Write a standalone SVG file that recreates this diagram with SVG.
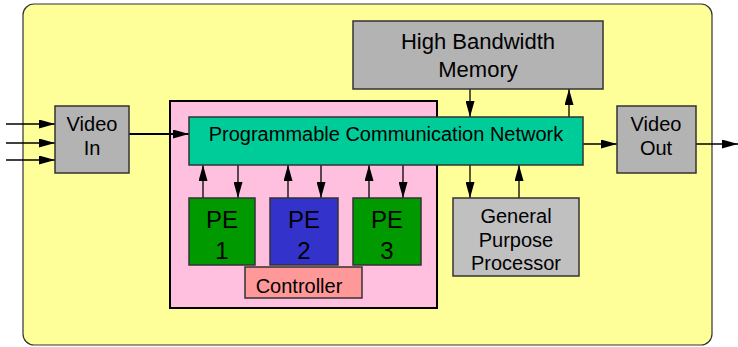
<svg xmlns="http://www.w3.org/2000/svg" width="738" height="347" viewBox="0 0 738 347">
<style>
.box{stroke:#333;stroke-width:1.5}
.t{font-family:"Liberation Sans",Arial,sans-serif;fill:#000;text-anchor:middle}
.c{stroke:#000;stroke-width:1.3;fill:none;marker-end:url(#ah)}
</style>
<defs>
<marker id="ah" viewBox="0 0 16 9" refX="16" refY="4.5" markerWidth="16" markerHeight="9" markerUnits="userSpaceOnUse" orient="auto">
<path d="M0,0 L16,4.5 L0,9 Z" fill="#000"/>
</marker>
</defs>
<rect x="23" y="4" width="689" height="341" rx="11" fill="#FFFF99" stroke="#333" stroke-width="1.2"/>
<g id="pe-cluster">
<rect x="170" y="101" width="267" height="207" fill="#FFC0E0" stroke="#000" stroke-width="2"/>
</g>
<g id="connectors">
<line class="c" x1="6" y1="124" x2="55" y2="124"/>
<line class="c" x1="6" y1="143" x2="55" y2="143"/>
<line class="c" x1="6" y1="160" x2="55" y2="160"/>
<line class="c" x1="129" y1="134" x2="189" y2="134" style="stroke-width:2.2"/>
<line class="c" x1="470" y1="89" x2="470" y2="117"/>
<line class="c" x1="569" y1="117" x2="569" y2="89"/>
<line class="c" x1="578" y1="144" x2="617" y2="144"/>
<line class="c" x1="696" y1="144" x2="738" y2="144"/>
<line class="c" x1="470" y1="165" x2="470" y2="198"/>
<line class="c" x1="519" y1="198" x2="519" y2="165"/>
<line class="c" x1="203" y1="198" x2="203" y2="165"/>
<line class="c" x1="238" y1="165" x2="238" y2="198"/>
<line class="c" x1="288" y1="198" x2="288" y2="165"/>
<line class="c" x1="321" y1="165" x2="321" y2="198"/>
<line class="c" x1="369" y1="198" x2="369" y2="165"/>
<line class="c" x1="403" y1="165" x2="403" y2="198"/>
</g>
<g id="video-in">
<rect class="box" x="55" y="106" width="74" height="67" fill="#B3B3B3"/>
<text class="t" x="92" y="131" font-size="20">Video</text>
<text class="t" x="92" y="155" font-size="20">In</text>
</g>
<g id="network">
<rect class="box" x="189" y="117" width="394" height="48" fill="#00CC99"/>
<text class="t" x="386" y="141" font-size="20">Programmable Communication Network</text>
</g>
<g id="memory">
<rect class="box" x="353" y="21" width="250" height="68" fill="#B3B3B3"/>
<text class="t" x="478" y="49" font-size="22">High Bandwidth</text>
<text class="t" x="478" y="77" font-size="22">Memory</text>
</g>
<g id="video-out">
<rect class="box" x="617" y="106" width="79" height="67" fill="#B3B3B3"/>
<text class="t" x="656" y="131" font-size="20">Video</text>
<text class="t" x="656" y="155" font-size="20">Out</text>
</g>
<g id="gpp">
<rect class="box" x="453" y="198" width="126" height="78" fill="#C0C0C0"/>
<text class="t" x="516" y="223" font-size="20">General</text>
<text class="t" x="516" y="247" font-size="20">Purpose</text>
<text class="t" x="516" y="270" font-size="20">Processor</text>
</g>
<g id="pe1">
<rect class="box" x="189" y="198" width="66" height="67" fill="#009900"/>
<text class="t" x="222" y="228" font-size="24">PE</text>
<text class="t" x="222" y="259" font-size="24">1</text>
</g>
<g id="pe2">
<rect class="box" x="270" y="198" width="68" height="67" fill="#3333CC"/>
<text class="t" x="304" y="228" font-size="24">PE</text>
<text class="t" x="304" y="259" font-size="24">2</text>
</g>
<g id="pe3">
<rect class="box" x="353" y="198" width="68" height="67" fill="#009900"/>
<text class="t" x="387" y="228" font-size="24">PE</text>
<text class="t" x="387" y="259" font-size="24">3</text>
</g>
<g id="controller">
<rect class="box" x="245" y="267" width="117" height="31" fill="#FF9999"/>
<text class="t" x="299" y="293" font-size="20">Controller</text>
</g>
</svg>
